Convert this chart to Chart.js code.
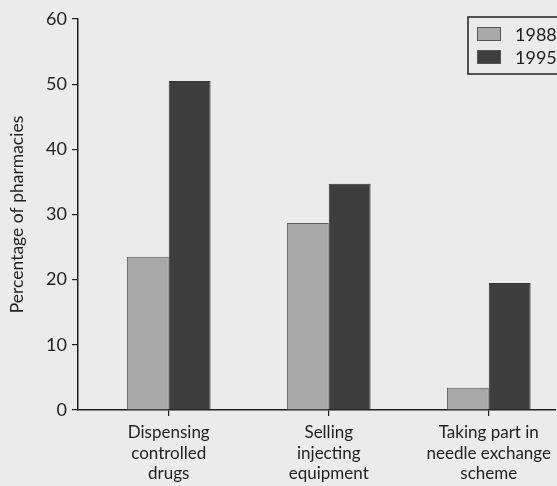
<!DOCTYPE html>
<html>
<head>
<meta charset="utf-8">
<script src="https://cdn.jsdelivr.net/npm/chart.js@4/dist/chart.umd.min.js"></script>
<style>
  html, body { margin: 0; padding: 0; background: #ebebeb; overflow: hidden; }
  #c { display: block; }
</style>
</head>
<body>
<canvas id="c" width="557" height="486"></canvas>
<script>
const categories = [
  ['Dispensing', 'controlled', 'drugs'],
  ['Selling', 'injecting', 'equipment'],
  ['Taking part in', 'needle exchange', 'scheme']
];
const seriesLabels = ['1988', '1995'];
const values1988 = [23.5, 28.7, 3.4];
const values1995 = [50.5, 34.7, 19.5];
const yTickValues = [0, 10, 20, 30, 40, 50, 60];
const yTitle = 'Percentage of pharmacies';

const FONT = 'Lato, "Open Sans", sans-serif';
const INK = '#1f1f1f';

const boxLegend = {
  id: 'boxLegend',
  afterDraw(chart, args, opts) {
    const ctx = chart.ctx;
    ctx.save();
    ctx.lineWidth = 1.5;
    ctx.strokeStyle = INK;
    ctx.strokeRect(opts.x, opts.y, opts.w, opts.h);
    chart.data.datasets.forEach((ds, i) => {
      const sy = opts.y + opts.firstRow + i * opts.rowGap;
      ctx.fillStyle = ds.backgroundColor;
      ctx.fillRect(opts.x + opts.swatchX, sy - opts.swatchH / 2, opts.swatchW, opts.swatchH);
      ctx.lineWidth = 1;
      ctx.strokeStyle = '#555';
      ctx.strokeRect(opts.x + opts.swatchX + 0.5, sy - opts.swatchH / 2 + 0.5, opts.swatchW - 1, opts.swatchH - 1);
      ctx.fillStyle = INK;
      ctx.font = opts.font;
      ctx.textBaseline = 'middle';
      ctx.textAlign = 'left';
      ctx.fillText(ds.label, opts.x + opts.textX, sy + 1);
    });
    ctx.restore();
  }
};

new Chart(document.getElementById('c'), {
  type: 'bar',
  data: {
    datasets: [
      {
        label: seriesLabels[0],
        data: values1988.map((v, i) => ({ x: i, y: v })),
        backgroundColor: '#a9a9a9',
        borderColor: '#5a5a5a',
        borderWidth: 1
      },
      {
        label: seriesLabels[1],
        data: values1995.map((v, i) => ({ x: i, y: v })),
        backgroundColor: '#3e3e3e',
        borderColor: '#333333',
        borderWidth: 1
      }
    ]
  },
  options: {
    responsive: false,
    animation: false,
    devicePixelRatio: 1,
    layout: { padding: { top: 19, left: 0, right: 0, bottom: 0 } },
    datasets: { bar: { barPercentage: 1, categoryPercentage: 0.523 } },
    plugins: {
      legend: { display: false },
      tooltip: { enabled: false },
      boxLegend: {
        x: 468, y: 17, w: 110, h: 57,
        firstRow: 17, rowGap: 23,
        swatchX: 9, swatchW: 24, swatchH: 14,
        textX: 47,
        font: '18px ' + FONT
      }
    },
    scales: {
      x: {
        type: 'linear',
        min: -0.567,
        max: 2.417,
        offset: false,
        afterBuildTicks: (s) => { s.ticks = categories.map((_, i) => ({ value: i })); },
        afterFit: (s) => { s.height = 76; },
        grid: { offset: false, drawOnChartArea: false, drawTicks: true, tickLength: 6, color: INK, lineWidth: 1.2 },
        border: { display: true, color: INK, width: 1.5 },
        ticks: {
          autoSkip: false,
          maxRotation: 0,
          padding: 6,
          color: INK,
          font: { family: FONT, size: 17, lineHeight: 1.22 },
          callback: (v) => categories[v]
        }
      },
      y: {
        min: 0,
        max: 60,
        afterBuildTicks: (s) => { s.ticks = yTickValues.map(v => ({ value: v })); },
        afterFit: (s) => { s.width = 78; },
        grid: { drawOnChartArea: false, drawTicks: true, tickLength: 6, color: INK, lineWidth: 1.2 },
        border: { display: true, color: INK, width: 1.5 },
        ticks: {
          padding: 5,
          color: INK,
          font: { family: FONT, size: 18 }
        },
        title: {
          display: true,
          text: yTitle,
          color: INK,
          font: { family: FONT, size: 17.5 },
          padding: { top: 7, bottom: 4 }
        }
      }
    }
  },
  plugins: [boxLegend]
});
</script>
</body>
</html>
